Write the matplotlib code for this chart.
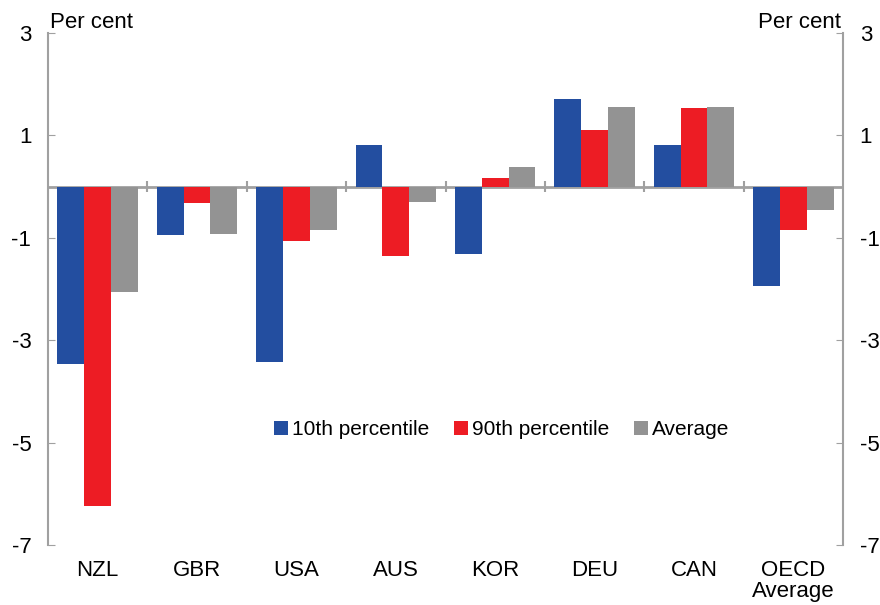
import numpy as np
import matplotlib
matplotlib.use('Agg')
import matplotlib.pyplot as plt

plt.rcParams['font.family'] = ['Liberation Sans', 'DejaVu Sans']
plt.rcParams['font.size'] = 16
plt.rcParams['axes.unicode_minus'] = False

# --- data ---
countries = ['NZL', 'GBR', 'USA', 'AUS', 'KOR', 'DEU', 'CAN', 'OECD\nAverage']
p10 = [-3.46, -0.95, -3.42, 0.81, -1.31, 1.72, 0.81, -1.94]
p90 = [-6.24, -0.33, -1.07, -1.35, 0.16, 1.10, 1.53, -0.84]
avg = [-2.06, -0.92, -0.84, -0.30, 0.39, 1.56, 1.56, -0.45]
yticks = [3, 1, -1, -3, -5, -7]

blue = '#234EA0'
red = '#ED1C24'
grey = '#939393'
axis_grey = '#A0A0A0'

fig = plt.figure(figsize=(8.8, 6.05), dpi=100)
ax = fig.add_axes([0.0545, 0.0992, 0.9035, 0.8463])

x = np.arange(len(countries))
w = 0.27
ax.bar(x - w, p10, w, color=blue, label='10th percentile')
ax.bar(x, p90, w, color=red, label='90th percentile')
ax.bar(x + w, avg, w, color=grey, label='Average')

ax.set_xlim(-0.5, len(countries) - 0.5)
ax.set_ylim(-7, 3)

# zero line with category separators
ax.axhline(0, color=axis_grey, lw=2, zorder=0.5)
bounds = np.arange(1, len(countries)) - 0.5
ax.vlines(bounds, -0.1, 0.1, color=axis_grey, lw=1.5)

ax.set_xticks(x)
ax.set_xticklabels(countries, linespacing=1.0)
ax.tick_params(axis='x', length=0, pad=11)

ax.set_yticks(yticks)
ax.tick_params(axis='y', direction='in', length=5, color=axis_grey, pad=12,
               left=True, right=True, labelleft=True, labelright=True)

for s in ['top', 'bottom']:
    ax.spines[s].set_visible(False)
for s in ['left', 'right']:
    ax.spines[s].set_color(axis_grey)
    ax.spines[s].set_linewidth(1.5)

ax.text(0.003, 1.0, 'Per cent', transform=ax.transAxes, ha='left', va='bottom')
ax.text(0.997, 1.0, 'Per cent', transform=ax.transAxes, ha='right', va='bottom')

ax.legend(loc='center', bbox_to_anchor=(0.571, 0.225), ncol=3, frameon=False,
          fontsize=15, handlelength=0.65, handleheight=0.65, handletextpad=0.2,
          columnspacing=1.2, borderaxespad=0)

fig.savefig('out.png', dpi=100)
